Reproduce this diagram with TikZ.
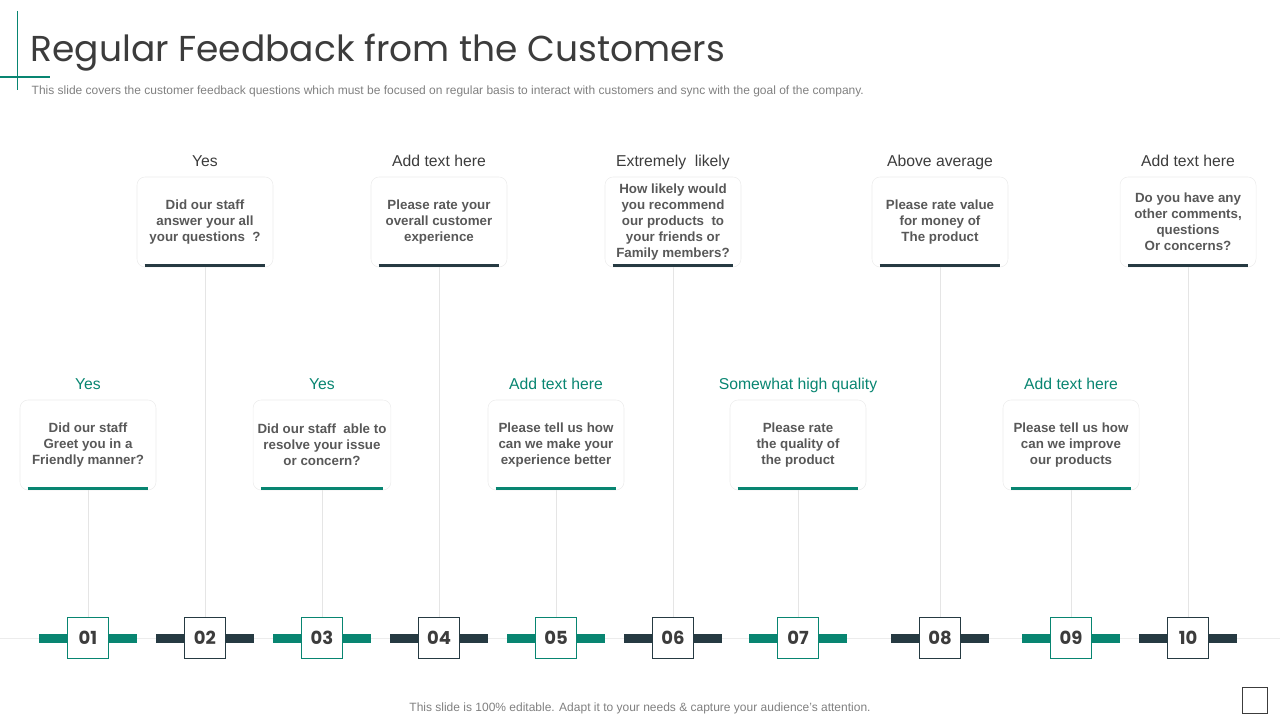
\documentclass[tikz,border=0pt]{standalone}
\usepackage{fontspec}
\setmainfont{Liberation Sans}
\newfontfamily\gothic{Poppins}
\usetikzlibrary{positioning}

\definecolor{sea}{RGB}{8,133,113}
\definecolor{slate}{RGB}{38,58,66}
\definecolor{ink}{RGB}{60,60,60}
\definecolor{mute}{RGB}{88,88,88}

\tikzset{
  card/.style={draw=gray!15, rounded corners=6pt, minimum width=102pt, minimum height=67.5pt,
    align=center, text=mute, font=\bfseries\fontsize{10}{12}\selectfont},
  answer/.style={text=ink, text height=1.6ex, text depth=0.4ex, font=\fontsize{11.8}{14}\selectfont},
  stem/.style={gray!20, line width=0.6pt},
  numbox/.style={draw, fill=white, minimum size=30.75pt, inner sep=0pt, line width=0.75pt,
    text=ink, font=\gothic\bfseries\fontsize{13.5}{16}\selectfont},
  bar/.style={line width=6.75pt},
  rule/.style={line width=2.25pt}
}

\begin{document}
\begin{tikzpicture}[x=0.75pt,y=-0.75pt]
\useasboundingbox (0,0) rectangle (1280,720);

% Heading
\draw[sea, line width=0.75pt] (17,11) -- (17,90);
\draw[sea, line width=1pt] (0,77) -- (50,77);
\node[anchor=west, text=ink, font=\gothic\fontsize{27}{32}\selectfont] (title) at (26,53) {Regular Feedback from the Customers};
\node[anchor=west, text=gray, font=\fontsize{9}{11}\selectfont] (sub) at (27,91) {This slide covers the customer feedback questions which must be focused on regular basis to interact with customers and sync with the goal of the company.};

% Time line
\draw[gray!15, line width=0.75pt] (0,638) -- (1280,638);

% 01
\node[card] (c1) at (88,445) {Did our staff\\Greet you in a\\Friendly manner?};
\node[answer, text=sea, above=2pt of c1] (a1) {Yes};
\node[numbox, draw=sea] (b1) at (88,638) {01};
\draw[rule, sea] ([xshift=6pt,yshift=1.5pt]c1.south west) -- ([xshift=-6pt,yshift=1.5pt]c1.south east);
\draw[stem] (c1) -- (b1);
\draw[bar, sea] (b1.west) -- ++(-28,0) (b1.east) -- ++(28,0);

% 02
\node[card] (c2) at (205,222) {Did our staff\\answer your all\\your questions ~?};
\node[answer, above=2pt of c2] (a2) {Yes};
\node[numbox, draw=slate] (b2) at (205,638) {02};
\draw[rule, slate] ([xshift=6pt,yshift=1.5pt]c2.south west) -- ([xshift=-6pt,yshift=1.5pt]c2.south east);
\draw[stem] (c2) -- (b2);
\draw[bar, slate] (b2.west) -- ++(-28,0) (b2.east) -- ++(28,0);

% 03
\node[card] (c3) at (322,445) {Did our staff ~able to\\resolve your issue\\or concern?};
\node[answer, text=sea, above=2pt of c3] (a3) {Yes};
\node[numbox, draw=sea] (b3) at (322,638) {03};
\draw[rule, sea] ([xshift=6pt,yshift=1.5pt]c3.south west) -- ([xshift=-6pt,yshift=1.5pt]c3.south east);
\draw[stem] (c3) -- (b3);
\draw[bar, sea] (b3.west) -- ++(-28,0) (b3.east) -- ++(28,0);

% 04
\node[card] (c4) at (439,222) {Please rate your\\overall customer\\experience};
\node[answer, above=2pt of c4] (a4) {Add text here};
\node[numbox, draw=slate] (b4) at (439,638) {04};
\draw[rule, slate] ([xshift=6pt,yshift=1.5pt]c4.south west) -- ([xshift=-6pt,yshift=1.5pt]c4.south east);
\draw[stem] (c4) -- (b4);
\draw[bar, slate] (b4.west) -- ++(-28,0) (b4.east) -- ++(28,0);

% 05
\node[card] (c5) at (556,445) {Please tell us how\\can we make your\\experience better};
\node[answer, text=sea, above=2pt of c5] (a5) {Add text here};
\node[numbox, draw=sea] (b5) at (556,638) {05};
\draw[rule, sea] ([xshift=6pt,yshift=1.5pt]c5.south west) -- ([xshift=-6pt,yshift=1.5pt]c5.south east);
\draw[stem] (c5) -- (b5);
\draw[bar, sea] (b5.west) -- ++(-28,0) (b5.east) -- ++(28,0);

% 06
\node[card] (c6) at (673,222) {How likely would\\you recommend\\our products ~to\\your friends or\\Family members?};
\node[answer, above=2pt of c6] (a6) {Extremely ~likely};
\node[numbox, draw=slate] (b6) at (673,638) {06};
\draw[rule, slate] ([xshift=6pt,yshift=1.5pt]c6.south west) -- ([xshift=-6pt,yshift=1.5pt]c6.south east);
\draw[stem] (c6) -- (b6);
\draw[bar, slate] (b6.west) -- ++(-28,0) (b6.east) -- ++(28,0);

% 07
\node[card] (c7) at (798,445) {Please rate\\the quality of\\the product};
\node[answer, text=sea, above=2pt of c7] (a7) {Somewhat high quality};
\node[numbox, draw=sea] (b7) at (798,638) {07};
\draw[rule, sea] ([xshift=6pt,yshift=1.5pt]c7.south west) -- ([xshift=-6pt,yshift=1.5pt]c7.south east);
\draw[stem] (c7) -- (b7);
\draw[bar, sea] (b7.west) -- ++(-28,0) (b7.east) -- ++(28,0);

% 08
\node[card] (c8) at (940,222) {Please rate value\\for money of\\The product};
\node[answer, above=2pt of c8] (a8) {Above average};
\node[numbox, draw=slate] (b8) at (940,638) {08};
\draw[rule, slate] ([xshift=6pt,yshift=1.5pt]c8.south west) -- ([xshift=-6pt,yshift=1.5pt]c8.south east);
\draw[stem] (c8) -- (b8);
\draw[bar, slate] (b8.west) -- ++(-28,0) (b8.east) -- ++(28,0);

% 09
\node[card] (c9) at (1071,445) {Please tell us how\\can we improve\\our products};
\node[answer, text=sea, above=2pt of c9] (a9) {Add text here};
\node[numbox, draw=sea] (b9) at (1071,638) {09};
\draw[rule, sea] ([xshift=6pt,yshift=1.5pt]c9.south west) -- ([xshift=-6pt,yshift=1.5pt]c9.south east);
\draw[stem] (c9) -- (b9);
\draw[bar, sea] (b9.west) -- ++(-28,0) (b9.east) -- ++(28,0);

% 10
\node[card] (c10) at (1188,222) {Do you have any\\other comments,\\questions\\Or concerns?};
\node[answer, above=2pt of c10] (a10) {Add text here};
\node[numbox, draw=slate] (b10) at (1188,638) {10};
\draw[rule, slate] ([xshift=6pt,yshift=1.5pt]c10.south west) -- ([xshift=-6pt,yshift=1.5pt]c10.south east);
\draw[stem] (c10) -- (b10);
\draw[bar, slate] (b10.west) -- ++(-28,0) (b10.east) -- ++(28,0);

% Footer
\node[text=gray, font=\fontsize{9}{11}\selectfont] (foot) at (640,708) {This slide is 100\% editable. Adapt it to your needs \& capture your audience’s attention.};
\draw[ink, line width=0.75pt] (1242,687) rectangle (1267,713);

\end{tikzpicture}
\end{document}
